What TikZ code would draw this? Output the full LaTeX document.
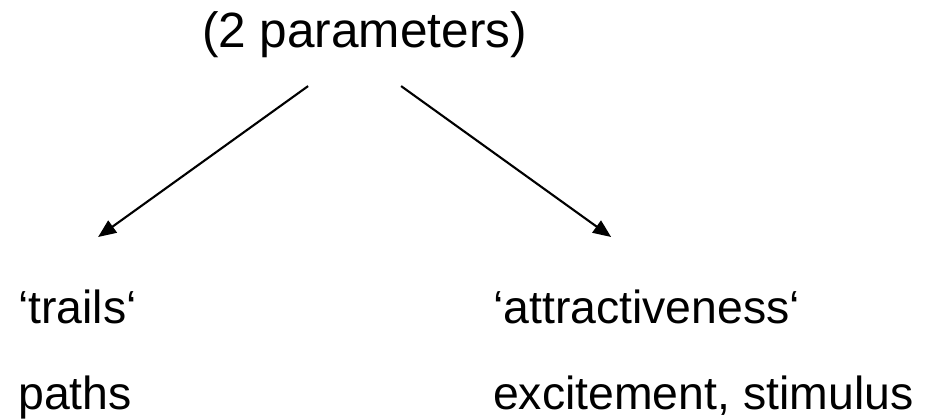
\documentclass[tikz,border=0pt]{standalone}
\usepackage{fontspec}
\setmainfont{Liberation Sans}
\usepackage{tikz}
\usetikzlibrary{arrows.meta, positioning}
\tikzset{
  headline/.style={anchor=base, inner sep=0pt, font=\fontsize{47}{56}\selectfont},
  leaf/.style={anchor=base west, inner sep=0pt, font=\fontsize{44}{52}\selectfont},
  arrow/.style={-{Triangle[length=17pt, width=14pt]}, line width=2pt, draw=black},
}
\begin{document}
\begin{tikzpicture}
  \useasboundingbox (0,0) rectangle (31,14);

  %% Title
  \node[headline] (params) at (12.15,12.4) {(2 parameters)};

  %% Leaves
  \node[leaf] (trails) at (0.6,3.23) {‘trails‘};
  \node[leaf] (paths) at (0.6,0.35) {paths};
  \node[leaf] (attract) at (16.43,3.23) {‘attractiveness‘};
  \node[leaf] (excite) at (16.43,0.35) {excitement, stimulus};

  %% Arrow ends
  \coordinate (leftFrom) at (10.27,11.13);
  \coordinate (leftTo) at (3.27,6.1);
  \coordinate (rightFrom) at (13.37,11.13);
  \coordinate (rightTo) at (20.37,6.1);

  \draw[arrow] (leftFrom) -- (leftTo);
  \draw[arrow] (rightFrom) -- (rightTo);

\end{tikzpicture}
\end{document}
